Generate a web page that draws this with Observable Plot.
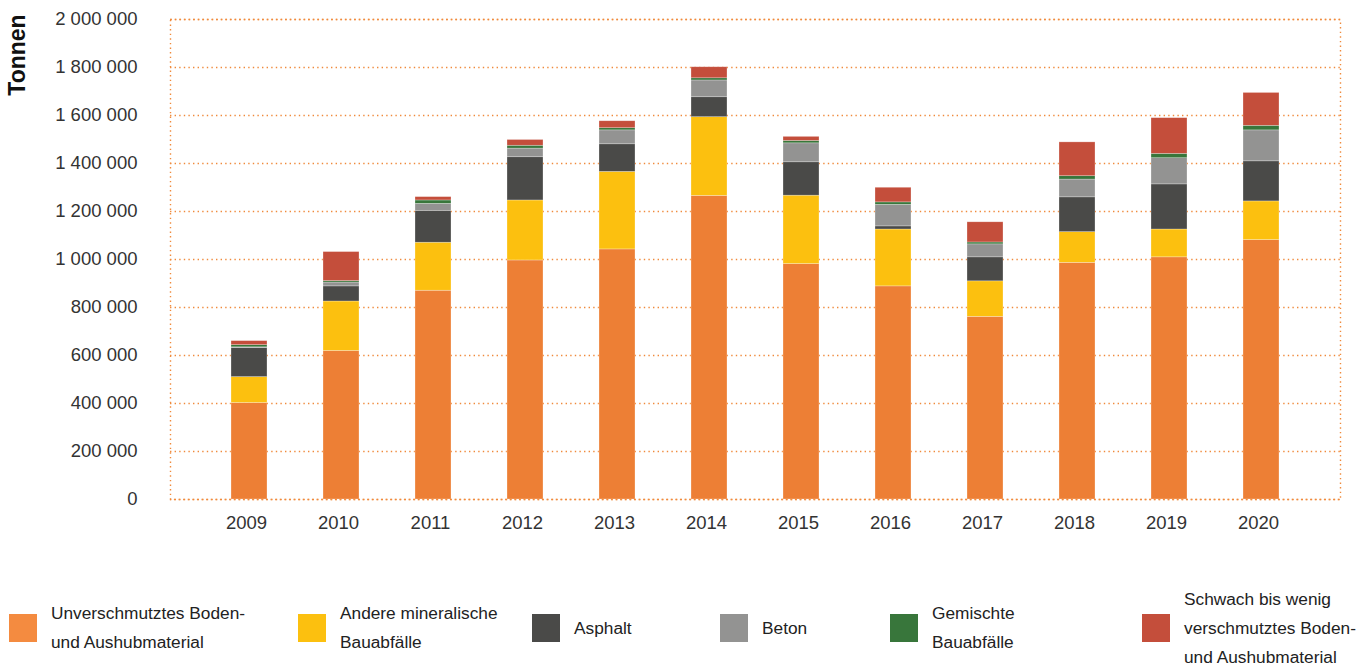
<!DOCTYPE html>
<html>
<head>
<meta charset="utf-8">
<script src="https://cdn.jsdelivr.net/npm/d3@7"></script>
<script src="https://cdn.jsdelivr.net/npm/@observablehq/plot@0.6"></script>
<style>
  html, body { margin: 0; padding: 0; background: #fff; }
  body { width: 1361px; height: 664px; position: relative; overflow: hidden; font-family: "Liberation Sans", Arial, Helvetica, sans-serif; }
  #chart { position: absolute; left: 0; top: 0; }
  #ylabel { position: absolute; left: 17px; top: 55px; transform: translate(-50%, -50%) rotate(-90deg); font-weight: bold; font-size: 23px; color: #111; white-space: nowrap; }
  .leg { position: absolute; top: 614px; height: 28px; display: flex; align-items: center; font-size: 17.3px; color: #222; line-height: 29px; }
  .leg .sw { width: 28px; height: 28px; flex: 0 0 28px; margin-right: 14px; }
  .leg .tx { white-space: nowrap; }
</style>
</head>
<body>
<div id="chart"></div>
<div id="ylabel">Tonnen</div>
<div id="legend"></div>
<script>
const years = ["2009","2010","2011","2012","2013","2014","2015","2016","2017","2018","2019","2020"];
const categories = [
  "Unverschmutztes Boden- und Aushubmaterial",
  "Andere mineralische Bauabfälle",
  "Asphalt",
  "Beton",
  "Gemischte Bauabfälle",
  "Schwach bis wenig verschmutztes Boden- und Aushubmaterial"
];
const legendLines = [
  ["Unverschmutztes Boden-", "und Aushubmaterial"],
  ["Andere mineralische", "Bauabfälle"],
  ["Asphalt"],
  ["Beton"],
  ["Gemischte", "Bauabfälle"],
  ["Schwach bis wenig", "verschmutztes Boden-", "und Aushubmaterial"]
];
const colors = ["#ED7F35", "#FCC00F", "#4A4A48", "#939392", "#38763B", "#C44E3B"];
const legendColors = ["#F48B40", "#FCC00F", "#4A4A48", "#939392", "#38763B", "#C44E3B"];

const unverschmutzt = [402000, 619000, 870000, 996000, 1042000, 1265000, 981000, 888000, 761000, 986000, 1009000, 1081000];
const andereMineral = [108000, 206000, 200000, 250000, 323000, 328000, 285000, 237000, 148000, 128000, 116000, 161000];
const asphalt       = [121000,  63000, 133000, 180000, 115000,  83000, 139000,  13000, 100000, 145000, 188000, 167000];
const beton         = [  3000,  16000,  29000,  36000,  58000,  70000,  79000,  90000,  54000,  74000, 109000, 129000];
const gemischt      = [  9000,   6000,  14000,  12000,   9000,   9000,  10000,  10000,   8000,  14000,  18000,  19000];
const schwach       = [ 17000, 121000,  14000,  24000,  29000,  46000,  17000,  61000,  84000, 141000, 149000, 137000];
const series = [unverschmutzt, andereMineral, asphalt, beton, gemischt, schwach];

const yTicks = [0, 200000, 400000, 600000, 800000, 1000000, 1200000, 1400000, 1600000, 1800000, 2000000];

const data = [];
years.forEach((yr, i) => {
  categories.forEach((c, j) => data.push({year: yr, cat: c, value: series[j][i]}));
});

const fmt = d => d3.format(",")(d).replace(/,/g, " ");
const gridColor = "#F08A3C";

const plot = Plot.plot({
  width: 1361,
  height: 545,
  marginLeft: 170,
  marginRight: 21,
  marginTop: 19,
  marginBottom: 46,
  style: {fontFamily: "'Liberation Sans', Arial, Helvetica, sans-serif", background: "transparent"},
  x: {domain: years, range: [231, 1279], paddingInner: 0.6087, paddingOuter: 0, round: false, label: null},
  y: {domain: [0, 2000000], label: null},
  color: {domain: categories, range: colors},
  marks: [
    Plot.gridY(yTicks, {stroke: gridColor, strokeOpacity: 1, strokeWidth: 1.4, strokeDasharray: "1.4,3.2"}),
    Plot.barY(data, {x: "year", y: "value", fill: "cat", stroke: "#fff", strokeOpacity: 0.45, strokeWidth: 0.6}),
    Plot.frame({stroke: gridColor, strokeWidth: 1.4, strokeDasharray: "1.4,3.2"}),
    Plot.axisY(yTicks, {tickSize: 0, tickPadding: 33, tickFormat: fmt, fontSize: 18.5, fill: "#333", label: null}),
    Plot.axisX(years, {tickSize: 0, tickPadding: 16, fontSize: 18.5, fill: "#333", dx: -3, label: null})
  ]
});
document.getElementById("chart").appendChild(plot);

const legendX = [9, 298, 532, 720, 890, 1142];
const legend = document.getElementById("legend");
categories.forEach((c, i) => {
  const item = document.createElement("div");
  item.className = "leg";
  item.style.left = legendX[i] + "px";
  const sw = document.createElement("div");
  sw.className = "sw";
  sw.style.background = legendColors[i];
  const tx = document.createElement("div");
  tx.className = "tx";
  tx.innerHTML = legendLines[i].join("<br>");
  item.appendChild(sw);
  item.appendChild(tx);
  legend.appendChild(item);
});
</script>
</body>
</html>
